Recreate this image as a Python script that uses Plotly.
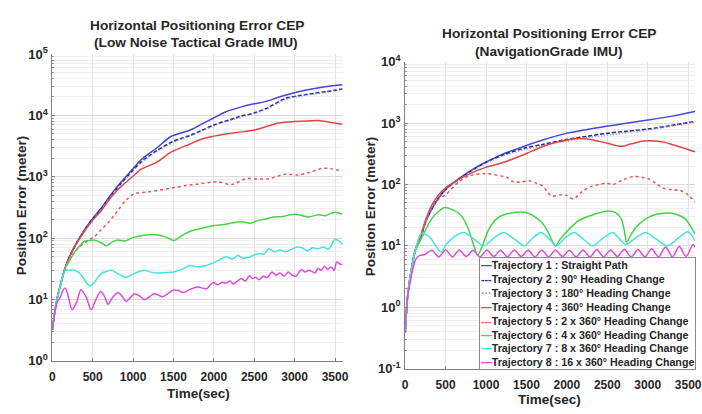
import plotly.graph_objects as go

# ---------------- data: left panel (Low Noise Tactical Grade IMU) ----------------
L1_t = [0, 50, 100, 160, 244, 400, 500, 610, 730, 855, 975, 1100, 1300, 1463, 1710, 1850, 1990, 2150, 2340, 2500, 2640, 2800, 3010, 3250, 3400, 3590]
L1_v = [3.2, 9, 17, 33, 61, 138, 210, 315, 520, 830, 1250, 1900, 3000, 4500, 5800, 7200, 9000, 11500, 13800, 15500, 16800, 19800, 23700, 27500, 29500, 31600]

L2_t = [0, 50, 100, 160, 244, 400, 500, 610, 730, 855, 975, 1100, 1300, 1500, 1700, 1850, 2000, 2200, 2320, 2500, 2650, 2890, 3050, 3250, 3400, 3590]
L2_v = [3.2, 9, 17, 33, 61, 136, 205, 305, 500, 790, 1180, 1750, 2700, 3800, 4700, 5700, 7000, 8500, 9600, 11000, 13000, 19000, 21000, 23000, 24500, 27000]

L3_t = [0, 50, 100, 160, 244, 400, 500, 610, 730, 855, 975, 1100, 1300, 1500, 1700, 1850, 2000, 2200, 2320, 2500, 2650, 2890, 3050, 3250, 3400, 3590]
L3_v = [3.2, 9, 17, 33, 60, 134, 200, 298, 490, 770, 1150, 1700, 2600, 3650, 4600, 5500, 6800, 8300, 9300, 10700, 12600, 18300, 20500, 22500, 24000, 26500]

L4_t = [0, 50, 100, 160, 244, 400, 500, 610, 730, 855, 1015, 1100, 1300, 1463, 1700, 1870, 2000, 2150, 2350, 2520, 2650, 2800, 3000, 3150, 3300, 3450, 3590]
L4_v = [3.2, 9, 17, 33, 60, 130, 195, 285, 470, 700, 1070, 1330, 1750, 2500, 3400, 4200, 4600, 5000, 5400, 5850, 6600, 7500, 8000, 8100, 8300, 7700, 7200]

L5_t = [0, 50, 100, 160, 244, 330, 420, 525, 610, 690, 815, 900, 1015, 1180, 1300, 1463, 1650, 1800, 2040, 2220, 2400, 2550, 2680, 2890, 3040, 3200, 3350, 3450, 3590]
L5_v = [3.2, 9, 17, 32, 52, 70, 88, 107, 140, 178, 285, 400, 530, 565, 600, 650, 720, 760, 830, 750, 930, 920, 930, 1110, 1070, 1200, 1380, 1350, 1250]

L6_t = [0, 50, 100, 160, 220, 280, 340, 400, 470, 525, 600, 670, 750, 815, 900, 1000, 1135, 1260, 1400, 1510, 1600, 1710, 1850, 1990, 2100, 2240, 2350, 2450, 2550, 2640, 2720, 2850, 2940, 3010, 3100, 3170, 3300, 3380, 3450, 3520, 3590]
L6_v = [3.2, 9, 17, 33, 45, 60, 75, 90, 92, 93, 85, 75, 88, 93, 90, 102, 112, 115, 105, 92, 110, 130, 145, 160, 165, 178, 185, 175, 195, 205, 220, 225, 240, 245, 232, 222, 240, 232, 255, 262, 245]

L7_t = [0, 50, 100, 160, 205, 280, 350, 420, 465, 520, 600, 730, 820, 915, 1000, 1135, 1220, 1300, 1400, 1500, 1600, 1710, 1800, 1910, 2000, 2080, 2150, 2230, 2300, 2360, 2450, 2550, 2620, 2680, 2750, 2820, 2890, 2960, 3030, 3090, 3160, 3220, 3290, 3360, 3420, 3500, 3550, 3590]
L7_v = [3.2, 9, 17, 30, 30, 30, 26, 19, 16.6, 19, 26, 30, 26, 23, 26, 30, 28, 27, 27.5, 28, 31, 36, 34, 36, 40, 45, 50, 46, 52, 47, 50, 56, 55, 67, 60, 64, 60, 66, 72, 70, 62, 70, 67, 72, 66, 96, 90, 80]

L8_t = [0, 30, 60, 100, 130, 160, 200, 245, 300, 355, 420, 480, 540, 600, 650, 690, 750, 815, 870, 915, 960, 1015, 1080, 1140, 1200, 1260, 1310, 1360, 1430, 1500, 1560, 1620, 1700, 1790, 1850, 1910, 1950, 1990, 2050, 2100, 2150, 2200, 2240, 2290, 2340, 2390, 2440, 2480, 2520, 2560, 2610, 2660, 2720, 2770, 2820, 2870, 2920, 2970, 3020, 3060, 3090, 3130, 3170, 3210, 3250, 3290, 3330, 3370, 3410, 3450, 3490, 3520, 3560, 3590]
L8_v = [3.2, 6, 9, 11, 14, 15.5, 11, 6.8, 9, 14.5, 11, 6.8, 10, 13.5, 11, 8.4, 11, 13, 11, 9.3, 10.5, 12.4, 11.5, 10, 11, 12.4, 12, 11, 12.5, 14.3, 14, 13, 14.5, 16, 15.5, 15, 17, 19, 17.5, 19, 18.5, 20, 18, 20, 22, 20, 24.5, 22, 23, 21, 24, 23, 28, 25, 27, 24, 28, 25, 24, 29, 31, 28, 30, 29, 27, 32, 30, 35, 31, 34, 30, 41, 38, 37]

# ---------------- data: right panel (Navigation Grade IMU) ----------------
R1_t = [0, 30, 60, 100, 130, 200, 260, 330, 400, 490, 580, 660, 800, 995, 1200, 1475, 1700, 1990, 2250, 2490, 2750, 3000, 3300, 3585]
R1_v = [0.39, 1.5, 3, 6, 9, 15, 26, 40, 57, 80, 103, 123, 165, 230, 310, 420, 530, 680, 790, 890, 1000, 1120, 1300, 1550]

R2_t = [0, 30, 60, 100, 130, 200, 260, 330, 400, 490, 580, 660, 800, 995, 1200, 1475, 1700, 1990, 2250, 2490, 2750, 3000, 3300, 3585]
R2_v = [0.39, 1.5, 3, 6, 9, 15, 26, 40, 57, 80, 102, 121, 162, 228, 300, 390, 450, 540, 610, 680, 740, 800, 920, 1070]

R3_t = [0, 30, 60, 100, 130, 200, 260, 330, 400, 490, 580, 660, 800, 995, 1200, 1475, 1700, 1990, 2250, 2490, 2750, 3000, 3300, 3585]
R3_v = [0.39, 1.5, 3, 6, 9, 15, 26, 40, 56, 78, 100, 118, 158, 222, 290, 370, 430, 510, 580, 630, 700, 770, 900, 1050]

R4_t = [0, 30, 60, 100, 130, 200, 260, 330, 415, 500, 600, 800, 995, 1150, 1315, 1500, 1650, 1800, 1990, 2130, 2250, 2380, 2500, 2670, 2800, 2950, 3100, 3200, 3320, 3450, 3585]
R4_v = [0.39, 1.5, 3, 6, 9, 16, 28, 46, 68, 88, 108, 150, 190, 215, 255, 320, 390, 460, 525, 560, 550, 510, 470, 420, 460, 510, 510, 490, 440, 390, 340]

R5_t = [0, 30, 60, 100, 130, 200, 260, 330, 415, 500, 660, 800, 995, 1150, 1260, 1340, 1430, 1530, 1620, 1700, 1810, 1930, 2000, 2080, 2180, 2300, 2400, 2490, 2570, 2700, 2830, 3000, 3100, 3190, 3300, 3400, 3500, 3585]
R5_v = [0.39, 1.5, 3, 6, 9, 16, 28, 44, 58, 68, 110, 140, 150, 140, 130, 110, 110, 115, 105, 95, 65, 68, 66, 58, 75, 93, 100, 105, 100, 120, 135, 125, 105, 87, 82, 80, 68, 52]

R6_t = [0, 30, 60, 100, 130, 210, 330, 420, 490, 560, 665, 740, 800, 850, 895, 940, 1030, 1110, 1190, 1300, 1440, 1520, 1600, 1690, 1770, 1820, 1860, 1920, 2050, 2150, 2260, 2380, 2500, 2600, 2670, 2710, 2740, 2790, 2870, 2950, 3050, 3190, 3300, 3400, 3470, 3530, 3585]
R6_v = [0.39, 1.5, 3, 6, 8.5, 14, 28, 37, 42, 40, 34, 25, 16, 10, 7, 9, 18, 26, 31, 34, 35.5, 34, 30, 24, 16.6, 12, 10, 13, 20, 26, 30, 34, 37, 35, 28, 18, 11.5, 15, 21, 26, 31, 34, 34, 31, 27, 21, 15.5]

R7_t = [0, 30, 60, 100, 130, 200, 300, 380, 440, 520, 620, 725, 850, 970, 1100, 1215, 1350, 1475, 1580, 1680, 1780, 1870, 1980, 2090, 2200, 2320, 2450, 2570, 2650, 2730, 2850, 2975, 3100, 3245, 3380, 3500, 3585]
R7_v = [0.39, 1.5, 3, 6, 9, 16, 14, 10, 8, 11, 14.5, 16.5, 13, 10, 13.5, 16.5, 13, 10, 13.5, 16.5, 13, 10, 13.5, 16.5, 13, 10, 13.5, 16.5, 13, 10.5, 13.5, 16.5, 13, 10, 13.5, 17, 12]

R8_t = [0, 30, 60, 100, 130, 180, 240, 330, 415, 500, 585, 670, 755, 840, 925, 1010, 1095, 1180, 1265, 1350, 1435, 1520, 1605, 1690, 1775, 1860, 1945, 2030, 2115, 2200, 2285, 2370, 2455, 2540, 2625, 2710, 2795, 2880, 2965, 3050, 3135, 3220, 3305, 3390, 3475, 3560, 3585]
R8_v = [0.39, 1.5, 2.5, 4.5, 6, 7, 7.2, 8.5, 6.6, 8.6, 6.6, 8.6, 6.7, 8.5, 6.6, 8.6, 6.7, 8.5, 6.6, 8.6, 6.7, 8.5, 6.6, 8.5, 6.6, 8.6, 6.7, 8.5, 6.6, 8.6, 6.6, 8.7, 6.6, 8.6, 6.7, 8.8, 6.6, 8.7, 6.6, 9.0, 6.6, 9.6, 6.6, 9.8, 6.7, 10.5, 9.5]

NAMES = ["Trajectory 1 : Straight Path",
         "Trajectory 2 : 90° Heading Change",
         "Trajectory 3 : 180° Heading Change",
         "Trajectory 4 : 360° Heading Change",
         "Trajectory 5 : 2 x 360° Heading Change",
         "Trajectory 6 : 4 x 360° Heading Change",
         "Trajectory 7 : 8 x 360° Heading Change",
         "Trajectory 8 : 16 x 360° Heading Change"]

X_TICKS = [0, 500, 1000, 1500, 2000, 2500, 3000, 3500]
YL_TICKS = [1, 10, 100, 1000, 10000, 100000]
YL_TEXT = ["10<sup>0</sup>", "10<sup>1</sup>", "10<sup>2</sup>", "10<sup>3</sup>", "10<sup>4</sup>", "10<sup>5</sup>"]
YR_TICKS = [0.1, 1, 10, 100, 1000, 10000]
YR_TEXT = ["10<sup>-1</sup>", "10<sup>0</sup>", "10<sup>1</sup>", "10<sup>2</sup>", "10<sup>3</sup>", "10<sup>4</sup>"]

# ---------------- styles ----------------
COLORS = ["#4646d8", "#22229a", "#8c8cc4", "#e04848", "#e05a5a", "#48d248", "#48e2e2", "#e048e0"]
DASHES = ["solid", "4px,2px", "1px,2px", "solid", "3px,3px", "solid", "solid", "solid"]
GLYPH = ["—", "---", "···", "—", "---", "—", "—", "—"]

W, H = 702, 414
FONT = "Liberation Sans, Arial, sans-serif"

left = [(L1_t, L1_v), (L2_t, L2_v), (L3_t, L3_v), (L4_t, L4_v),
        (L5_t, L5_v), (L6_t, L6_v), (L7_t, L7_v), (L8_t, L8_v)]
right = [(R1_t, R1_v), (R2_t, R2_v), (R3_t, R3_v), (R4_t, R4_v),
         (R5_t, R5_v), (R6_t, R6_v), (R7_t, R7_v), (R8_t, R8_v)]

fig = go.Figure()
for i, (t, v) in enumerate(left):
    fig.add_trace(go.Scatter(x=t, y=v, mode="lines", name=NAMES[i], showlegend=False,
                             line=dict(color=COLORS[i], width=1.5, dash=DASHES[i],
                                       shape="spline", smoothing=0.8),
                             xaxis="x", yaxis="y"))
for i, (t, v) in enumerate(right):
    fig.add_trace(go.Scatter(x=t, y=v, mode="lines", name=NAMES[i], showlegend=False,
                             line=dict(color=COLORS[i], width=1.5, dash=DASHES[i],
                                       shape="spline", smoothing=0.8),
                             xaxis="x2", yaxis="y2"))

def px(x):
    return x / W

def py(y):
    return 1 - y / H

xtickfont = dict(family=FONT, size=12, color="#262626", weight="bold")
ytickfont = dict(family=FONT, size=13, color="#262626", weight="bold")
minor_vals = [m * 10 ** e for e in range(-1, 5) for m in range(2, 10)]

common_x = dict(tickmode="array", tickvals=X_TICKS, showgrid=True, gridcolor="#e4e4e4",
                showline=True, linecolor="#808080", linewidth=1, ticks="inside", ticklen=3,
                tickcolor="#808080", tickfont=xtickfont, zeroline=False,
                ticklabelstandoff=5, ticklabeloverflow="allow")
common_y = dict(type="log", tickmode="array", showgrid=True, gridcolor="#dcdcdc",
                showline=True, linecolor="#808080", linewidth=1, ticks="inside", ticklen=3,
                tickcolor="#808080", tickfont=ytickfont, zeroline=False, ticklabelstandoff=1,
                minor=dict(tickmode="array", tickvals=minor_vals, ticks="inside", ticklen=2,
                           tickcolor="#999999", showgrid=True, gridcolor="#efefef"))

fig.update_layout(
    width=W, height=H, autosize=False,
    margin=dict(l=0, r=0, t=0, b=0),
    paper_bgcolor="white", plot_bgcolor="white",
    showlegend=False,
    xaxis=dict(domain=[px(50), px(345)], range=[0, 3600], anchor="y", **common_x),
    yaxis=dict(domain=[py(367), py(47)], range=[0, 5], anchor="x",
               tickvals=YL_TICKS, ticktext=YL_TEXT, **common_y),
    xaxis2=dict(domain=[px(408), 1.0], range=[0, 3585], anchor="y2", **common_x),
    yaxis2=dict(domain=[py(375), py(55)], range=[-1, 4], anchor="x2",
                tickvals=YR_TICKS, ticktext=YR_TEXT, **common_y),
)

title_font = dict(family=FONT, size=13.7, color="#262626", weight="bold")
label_font = dict(family=FONT, size=13.5, color="#262626", weight="bold")
ann = []
ann.append(dict(text="Horizontal Positioning Error CEP", x=px(197), y=py(17), font=title_font))
ann.append(dict(text="(Low Noise Tactical Grade IMU)", x=px(196), y=py(35), font=title_font))
ann.append(dict(text="Horizontal Positioning Error CEP", x=px(554), y=py(26), font=title_font))
ann.append(dict(text="(NavigationGrade IMU)", x=px(554), y=py(44), font=title_font))
ann.append(dict(text="Time(sec)", x=px(198), y=py(401), font=label_font))
ann.append(dict(text="Time(sec)", x=px(554), y=py(407), font=label_font))
ann.append(dict(text="Position Error (meter)", x=px(19), y=py(205), font=label_font, textangle=-90))
ann.append(dict(text="Position Error (meter)", x=px(373), y=py(206), font=label_font, textangle=-90))
for a in ann:
    a.update(xref="paper", yref="paper", showarrow=False, xanchor="center", yanchor="middle")
    fig.add_annotation(**a)

legend_lines = ["<span style='color:%s'>%s</span>%s" % (COLORS[i], GLYPH[i], NAMES[i]) for i in range(8)]
fig.add_annotation(text="<br>".join(legend_lines), xref="paper", yref="paper",
                   x=px(483), y=py(376), xanchor="left", yanchor="bottom", align="left",
                   showarrow=False, bgcolor="white", bordercolor="#8a8a8a", borderwidth=1,
                   borderpad=1, font=dict(family=FONT, size=10.7, color="#262626", weight="bold"))

fig.write_html("out.html")
